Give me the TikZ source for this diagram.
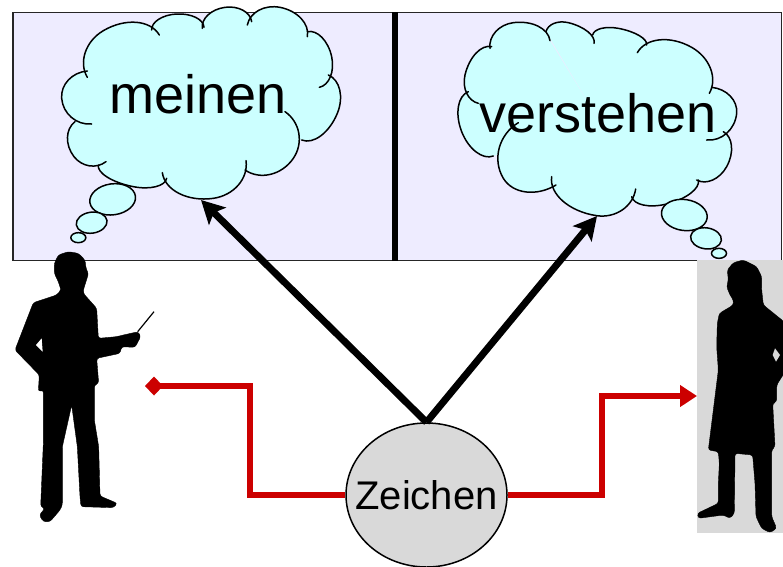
\documentclass[tikz,border=0pt]{standalone}
\usepackage{fontspec}
\setmainfont{Liberation Sans}
\usetikzlibrary{arrows.meta,shapes.geometric}
\definecolor{panelc}{HTML}{EEECFF}
\definecolor{cloudc}{HTML}{CCFFFF}
\definecolor{redc}{HTML}{CC0000}
\definecolor{greyc}{HTML}{D9D9D9}
\tikzset{
  panel/.style={draw=black!85,line width=1.8pt,fill=panelc},
  cloudfill/.style={fill=cloudc},
  cloudline/.style={draw=black,line width=1.5pt,line cap=round},
  bubble/.style={draw=black,line width=1.5pt,fill=cloudc,ellipse,inner sep=0pt},
  bigtext/.style={font=\fontsize{54}{54}\selectfont,anchor=base,inner sep=0pt},
  zeichenbox/.style={ellipse,draw=black,line width=1.5pt,fill=greyc,minimum width=161pt,minimum height=144pt,inner sep=0pt},
  zeichentext/.style={font=\fontsize{40}{40}\selectfont,anchor=base,inner sep=0pt},
  blackarrow/.style={line width=7pt,-{Stealth[length=23pt,width=24pt,inset=5pt]}},
  redarrow/.style={draw=redc,line width=6.5pt,line join=miter},
  zoomunits/.style={x=0.33333pt,y=-0.33333pt},
  silhouette/.style={fill=black,line join=round,draw=black,line width=0.4pt,rounded corners=2.5pt}
}
% one cloud bump: a half ellipse from (ax,ay) over apex (px,py) to (bx,by)
\newcommand{\B}[6]{%
  \pgfmathsetmacro\bl{veclen(#5-#1,#6-#2)}%
  \pgfmathsetmacro\bux{(#5-#1)/\bl}%
  \pgfmathsetmacro\buy{(#6-#2)/\bl}%
  \pgfmathsetmacro\bdu{(#3-#1)*\bux+(#4-#2)*\buy}%
  \pgfmathsetmacro\beu{(#5-#3)*\bux+(#6-#4)*\buy}%
  \pgfmathsetmacro\bnx{(#3-#1)-\bdu*\bux}%
  \pgfmathsetmacro\bny{(#4-#2)-\bdu*\buy}%
  \def\bk{0.55}%
  \pgfmathsetmacro\cax{#1+\bk*\bnx}\pgfmathsetmacro\cay{#2+\bk*\bny}%
  \pgfmathsetmacro\cbx{#3-\bk*\bdu*\bux}\pgfmathsetmacro\cby{#4-\bk*\bdu*\buy}%
  \pgfmathsetmacro\ccx{#3+\bk*\beu*\bux}\pgfmathsetmacro\ccy{#4+\bk*\beu*\buy}%
  \pgfmathsetmacro\cdx{#5+\bk*\bnx}\pgfmathsetmacro\cdy{#6+\bk*\bny}%
  \def\bumpcurve{(#1,#2) .. controls (\cax,\cay) and (\cbx,\cby) .. (#3,#4) .. controls (\ccx,\ccy) and (\cdx,\cdy) .. (#5,#6)}%
  \bumpaction
}
\newcommand{\bumpsA}{%
\B{262}{232}{310}{92}{478}{105}%
\B{455}{90}{530}{42}{612}{82}%
\B{607}{85}{675}{22}{755}{65}%
\B{742}{75}{840}{22}{922}{110}%
\B{922}{95}{995}{170}{958}{262}%
\B{985}{225}{1012}{340}{905}{420}%
\B{855}{335}{880}{475}{735}{510}%
\B{738}{482}{640}{595}{487}{518}%
\B{500}{535}{400}{560}{295}{495}%
\B{318}{485}{222}{470}{225}{365}%
\B{275}{372}{185}{295}{262}{213}%
}
\newcommand{\bumpsB}{%
\B{300}{145}{370}{68}{480}{122}%
\B{468}{95}{535}{68}{612}{130}%
\B{608}{105}{685}{85}{770}{135}%
\B{742}{158}{905}{142}{958}{280}%
\B{965}{262}{1040}{340}{950}{420}%
\B{1000}{395}{1010}{500}{920}{540}%
\B{925}{540}{830}{612}{725}{590}%
\B{737}{567}{620}{647}{485}{530}%
\B{498}{555}{340}{535}{385}{368}%
\B{310}{468}{215}{395}{235}{275}%
\B{265}{310}{225}{225}{305}{140}%
}
\newcommand{\drawbumps}[2]{%
  \def\bumpaction{\fill[cloudfill] (#2) -- \bumpcurve -- cycle;}#1%
  \def\bumpaction{\draw[cloudline] \bumpcurve;}#1%
}
\begin{document}
\begin{tikzpicture}[x=1pt,y=-1pt]
\clip (0,0) rectangle (783,566);
\fill[white] (0,0) rectangle (783,566);
% panels
\draw[panel] (13,12.5) rectangle (394,260.5);
\draw[panel] (396,12.5) rectangle (781.5,260.5);
\fill[black] (392,12) rectangle (397.5,261);
% left cloud
\begin{scope}[zoomunits]
  \drawbumps{\bumpsA}{600,300}
  \node[bubble,minimum width=46pt,minimum height=31pt,rotate=8] (bubA1) at (338,598) {};
  \node[bubble,minimum width=31pt,minimum height=21pt,rotate=8] (bubA2) at (275,668) {};
  \node[bubble,minimum width=15pt,minimum height=10pt] (bubA3) at (235,713) {};
\end{scope}
% right cloud
\begin{scope}[zoomunits,xshift=390pt]
  \drawbumps{\bumpsB}{620,350}
  \node[bubble,minimum width=46pt,minimum height=31pt,rotate=-8] (bubB1) at (883,645) {};
  \node[bubble,minimum width=31pt,minimum height=21pt,rotate=-8] (bubB2) at (948,715) {};
  \node[bubble,minimum width=15pt,minimum height=10pt] (bubB3) at (987,760) {};
\end{scope}
\node[bigtext] (meinen) at (198,113) {meinen};
\node[bigtext] (verstehen) at (598,132) {verstehen};
% left figure
\begin{scope}[zoomunits,yshift=-240pt]
  \draw[silhouette] (205,35)--(175,45)--(163,70)--(163,100)--(175,125)--(183,150)--(170,165)--(100,188)--(45,330)--(118,405)--(115,455)--(130,450)--(130,610)--(122,800)--(135,805)--(118,825)--(130,845)--(150,845)--(180,810)--(187,795)--(187,620)--(215,495)--(232,620)--(240,770)--(243,800)--(340,803)--(352,790)--(300,768)--(296,620)--(283,540)--(283,435)--(296,430)--(290,355)--(360,340)--(365,320)--(405,322)--(422,290)--(415,275)--(370,285)--(350,290)--(295,295)--(290,205)--(250,160)--(250,150)--(262,112)--(265,100)--(258,85)--(255,60)--(235,40)--cycle;
  \fill[white] (125,295)--(108,315)--(128,335)--cycle;
  \draw[black,line width=1.2pt] (413,275)--(462,215);
\end{scope}
% right figure
\fill[greyc] (697,260) rectangle (783,533);
\begin{scope}[zoomunits,xshift=680pt,yshift=-250pt]
  \draw[silhouette] (190,30)--(160,38)--(142,60)--(145,90)--(140,110)--(150,135)--(160,150)--(160,165)--(118,190)--(112,220)--(110,290)--(115,360)--(85,600)--(115,605)--(118,640)--(115,700)--(115,760)--(52,790)--(55,805)--(130,795)--(150,805)--(163,790)--(165,610)--(218,615)--(225,700)--(228,800)--(245,835)--(270,848)--(290,835)--(275,800)--(275,600)--(285,590)--(278,460)--(290,455)--(290,405)--(312,370)--(312,215)--(250,165)--(245,120)--(245,80)--(230,50)--cycle;
  \fill[greyc] (285,295)--(278,315)--(288,335)--(300,315)--cycle;
\end{scope}
% sign
\node[zeichenbox] (zeichen) at (426.5,495) {};
\node[zeichentext] (zeichenlabel) at (426.5,509.5) {Zeichen};
\coordinate (targetA) at (201,200);
\coordinate (targetB) at (597,216);
\coordinate (speaker) at (145,386);
\coordinate (hearer) at (697,396);
\coordinate (bendL) at (250,495);
\coordinate (bendR) at (602,495);
\draw[blackarrow] (zeichen.north) -- (targetA);
\draw[blackarrow] (zeichen.north) -- (targetB);
\draw[redarrow,-{Triangle[length=17pt,width=21pt]}] (zeichen.east) -- (bendR) |- (hearer);
\draw[redarrow,-{Diamond[length=18pt,width=19pt]}] (zeichen.west) -- (bendL) |- (speaker);
\end{tikzpicture}
\end{document}
